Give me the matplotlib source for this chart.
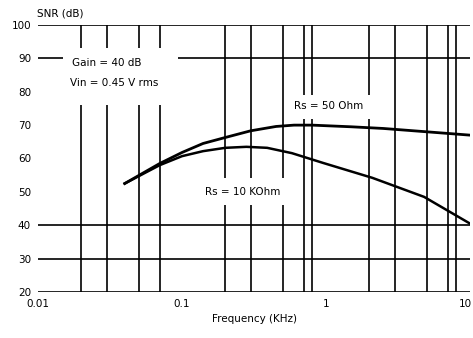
import matplotlib
matplotlib.use("Agg")
import matplotlib.pyplot as plt
import matplotlib.patches as patches
import matplotlib.transforms as mtransforms
from matplotlib.ticker import FixedLocator, NullLocator

# ----------------------------------------------------------------------
# Data
# ----------------------------------------------------------------------
FREQ_50 = [0.04, 0.07, 0.1, 0.14, 0.2, 0.3, 0.45, 0.6, 0.8, 1.5, 2.5, 5.0, 10.0]
SNR_50 = [52.5, 58.5, 61.8, 64.5, 66.3, 68.3, 69.6, 70.0, 70.0, 69.5, 69.0, 68.0, 67.0]

FREQ_10K = [0.04, 0.07, 0.1, 0.14, 0.2, 0.28, 0.39, 0.58, 0.95, 2.1, 4.8, 10.0]
SNR_10K = [52.5, 58.0, 60.7, 62.2, 63.2, 63.5, 63.2, 61.6, 58.7, 54.2, 48.5, 40.5]

GRID_FREQ = [0.02, 0.03, 0.05, 0.07, 0.2, 0.3, 0.5, 0.7, 0.8, 2, 3, 5, 7, 8]
GRID_SNR = [100, 90, 40, 30, 20]

X_TICKS = [0.01, 0.1, 1, 10]
X_LABELS = ["0.01", "0.1", "1", "10"]
Y_TICKS = [20, 30, 40, 50, 60, 70, 80, 90, 100]

FS = 7.5

fig = plt.figure(figsize=(4.73, 3.38), dpi=100)
ax = fig.add_axes([38 / 473, 1 - 292 / 338, 432 / 473, 267 / 338])
ax.set_xscale("log")
ax.set_xlim(0.01, 10)
ax.set_ylim(20, 100)
for s in ax.spines.values():
    s.set_visible(False)

# grid
for f in GRID_FREQ:
    ax.axvline(f, color="black", lw=1.2, zorder=1)
for v in GRID_SNR:
    ax.axhline(v, color="black", lw=1.2, zorder=1)


def px(x, y):
    """reference pixel -> axes fraction"""
    return (x - 38) / 432, (292 - y) / 267


def blank(x0, y0, x1, y1):
    """white patch behind a label, interrupting the grid"""
    ax0, ay0 = px(x0, y1)
    ax1, ay1 = px(x1, y0)
    ax.add_patch(patches.Rectangle((ax0, ay0), ax1 - ax0, ay1 - ay0,
                                   transform=ax.transAxes, fc="white",
                                   ec="none", zorder=2))


blank(63, 48, 178, 105)
blank(286, 95, 385, 119)
blank(195, 178, 292, 205)

# curves
ax.plot(FREQ_50, SNR_50, color="black", lw=2.0, zorder=3)
ax.plot(FREQ_10K, SNR_10K, color="black", lw=1.8, zorder=3)


def label(x, y, s, ha="center"):
    tx, ty = px(x, y)
    ax.text(tx, ty, s, transform=ax.transAxes, fontsize=FS,
            ha=ha, va="center", zorder=4)


label(72, 63, "Gain = 40 dB", ha="left")
label(70, 83, "Vin = 0.45 V rms", ha="left")
label(329, 106, "Rs = 50 Ohm")
label(243, 192, "Rs = 10 KOhm")

# axes text
ax.xaxis.set_major_locator(FixedLocator(X_TICKS))
ax.xaxis.set_minor_locator(NullLocator())
ax.set_xticklabels(X_LABELS)
ax.set_yticks(Y_TICKS)
ax.tick_params(length=0, labelsize=FS, pad=5)
last = ax.get_xticklabels()[-1]
last.set_transform(last.get_transform()
                   + mtransforms.ScaledTranslation(-5 / 100, 0, fig.dpi_scale_trans))
ax.set_xlabel("Frequency (KHz)", fontsize=FS, labelpad=4)
fig.text(37 / 473, 1 - 14 / 338, "SNR (dB)", fontsize=FS,
         ha="left", va="center")

fig.savefig("out.png", dpi=100)
